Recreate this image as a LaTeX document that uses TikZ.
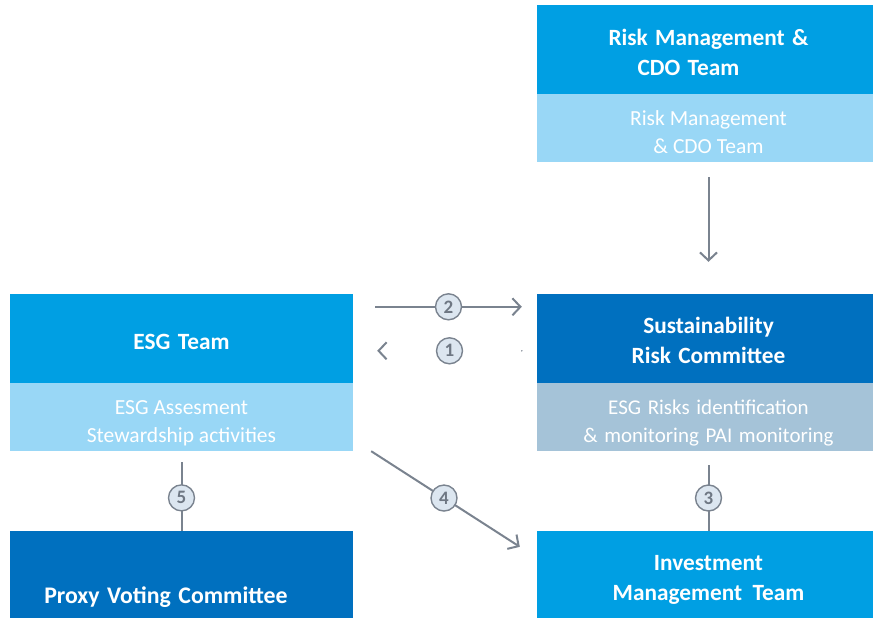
\documentclass[tikz,border=0pt]{standalone}
\usepackage{fontspec}
\setmainfont{Carlito}
\newfontfamily\widefont{Carlito}[WordSpace=1.4]
\usetikzlibrary{arrows.meta,calc}
\definecolor{bblue}{HTML}{009FE3}
\definecolor{dblue}{HTML}{0070BF}
\definecolor{lblue}{HTML}{99D7F6}
\definecolor{gblue}{HTML}{A5C3D8}
\definecolor{agray}{HTML}{7A838F}
\definecolor{cfill}{HTML}{DCE6F0}
\definecolor{ntext}{HTML}{6E7783}
\tikzset{
  box/.style={rectangle, inner sep=0pt, minimum width=343pt},
  tbox/.style={box, minimum height=89pt},
  sbox/.style={box, minimum height=68pt},
  ttxt/.style={inner sep=0pt, text=white, align=center, font=\widefont\bfseries\fontsize{23.3}{30}\selectfont},
  stxt/.style={inner sep=0pt, text=white, align=center, font=\fontsize{21.5}{28}\selectfont},
  conn/.style={draw=agray, line width=2pt},
  arr/.style={conn, -{Straight Barb[length=8pt,width=17pt,line width=2pt]}},
  num/.style={circle, draw=agray, line width=1.4pt, fill=cfill, minimum size=26pt, inner sep=0pt, text=ntext, font=\bfseries\fontsize{19}{19}\selectfont}
}
\begin{document}
\begin{tikzpicture}[x=1pt,y=-1pt]
\useasboundingbox (0,0) rectangle (873,618);
% right column
\node[tbox, fill=bblue] (rmtop) at (708.5,49.5) {};
\node[sbox, fill=lblue] (rmbot) at (708.5,128) {};
\node[tbox, fill=dblue] (sustop) at (708.5,338.5) {};
\node[sbox, fill=gblue] (susbot) at (708.5,417) {};
\node[tbox, fill=bblue, minimum height=87pt] (invest) at (708.5,574.5) {};
% left column
\node[tbox, fill=bblue] (esgtop) at (181.5,338.5) {};
\node[sbox, fill=lblue] (esgbot) at (181.5,417) {};
\node[box, fill=dblue, minimum height=87pt] (proxy) at (181.5,574.5) {};
% texts
\node[ttxt] (rmtoptxt) at ($(rmtop.center)+(0,3)$) {Risk Management \&\\CDO Team\hspace*{40pt}};
\node[stxt] (rmbottxt) at ($(rmbot.center)+(0,4)$) {Risk Management\\\& CDO Team};
\node[ttxt] (sustoptxt) at ($(sustop.center)+(0,2)$) {Sustainability\\Risk Committee};
\node[stxt, font=\widefont\fontsize{21}{28}\selectfont] (susbottxt) at ($(susbot.center)+(0,6)$) {ESG Risks identification\\\& monitoring PAI monitoring};
\node[ttxt] (investtxt) at ($(invest.center)+(0,5)$) {Investment\\Management\hspace{3pt} Team};
\node[ttxt] (esgtoptxt) at ($(esgtop.center)+(0,3)$) {ESG Team};
\node[stxt] (esgbottxt) at ($(esgbot.center)+(0,6)$) {ESG Assesment\\Stewardship activities};
\node[ttxt, font=\widefont\bfseries\fontsize{23.8}{28}\selectfont] (proxytxt) at (166,597) {Proxy Voting Committee};
% connector end points
\coordinate (a2s) at ($(esgtop.north east)+(22,13)$);
\coordinate (a2e) at ($(sustop.north west)+(-15,13)$);
\coordinate (a1s) at ($(sustop.north west)+(-15,57)$);
\coordinate (a1e) at ($(esgtop.north east)+(24,57)$);
\coordinate (a4s) at ($(esgbot.south east)+(18,0)$);
\coordinate (a4e) at ($(invest.north west)+(-17,16)$);
% connectors
\draw[arr] (rmbot.south) ++(0,15) coordinate (a0s) -- ($(sustop.north)+(0,-32)$) coordinate (a0e);
\draw[arr] (a2s) -- node[num]{2} (a2e);
\draw[draw=white, line width=2pt, -{Straight Barb[length=8pt,width=17pt,line width=2pt,color=agray]}] (a1s) -- node[num]{1} (a1e);
\fill[agray] (a1s) circle (0.8pt);
\draw[arr] (a4s) -- node[num, pos=0.49]{4} (a4e);
\draw[conn] ($(esgbot.south)+(0,11)$) coordinate (a5s) -- node[num, pos=0.52]{5} (proxy.north);
\draw[conn] ($(susbot.south)+(0,14)$) coordinate (a3s) -- node[num, pos=0.5]{3} (invest.north);
\end{tikzpicture}
\end{document}
